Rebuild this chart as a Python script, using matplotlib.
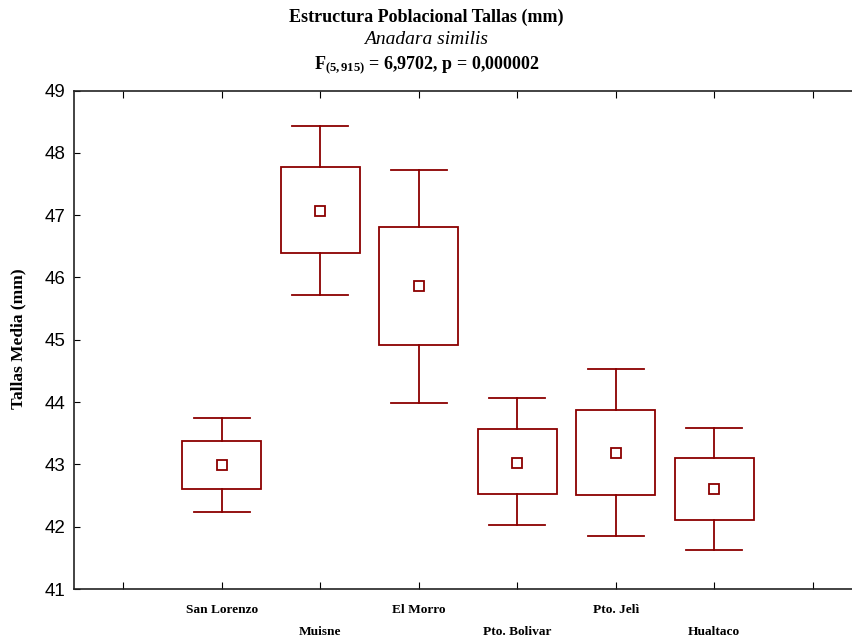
import matplotlib
matplotlib.use("Agg")
import matplotlib.pyplot as plt
import numpy as np

plt.rcParams['mathtext.fontset'] = 'custom'
plt.rcParams['mathtext.rm'] = 'Liberation Serif'
plt.rcParams['mathtext.bf'] = 'Liberation Serif:bold'
plt.rcParams['mathtext.it'] = 'Liberation Serif:italic'

# Sitios y estadisticos de talla (media, +/- EE, +/- 1.96*EE)
sitios = ["San Lorenzo", "Muisne", "El Morro", "Pto. Bolivar", "Pto. Jelì", "Hualtaco"]
media = [42.99, 47.07, 45.86, 43.03, 43.19, 42.61]
caja_inf = [42.60, 46.39, 44.91, 42.53, 42.51, 42.11]
caja_sup = [43.38, 47.77, 46.81, 43.57, 43.87, 43.11]
bigote_inf = [42.23, 45.72, 43.99, 42.03, 41.85, 41.63]
bigote_sup = [43.75, 48.43, 47.73, 44.06, 44.53, 43.59]

color = "#8b0000"
serif = "Liberation Serif"

fig = plt.figure(figsize=(8.53, 6.39), dpi=100)
ax = fig.add_axes([74 / 853, 1 - 589 / 639, (862 - 74) / 853, (589 - 90.5) / 639])

x = np.arange(1, len(sitios) + 1)
ancho = 0.8
tapa = 0.57
for xi, m, bi, bs, wi, ws in zip(x, media, caja_inf, caja_sup, bigote_inf, bigote_sup):
    ax.add_patch(plt.Rectangle((xi - ancho / 2, bi), ancho, bs - bi,
                               fill=False, edgecolor=color, lw=1.3))
    ax.plot([xi, xi], [bs, ws], color=color, lw=1.3)
    ax.plot([xi, xi], [wi, bi], color=color, lw=1.3)
    ax.plot([xi - tapa / 2, xi + tapa / 2], [ws, ws], color=color, lw=1.3)
    ax.plot([xi - tapa / 2, xi + tapa / 2], [wi, wi], color=color, lw=1.3)
ax.plot(x, media, linestyle="none", marker="s", markersize=6.5,
        markerfacecolor="white", markeredgecolor=color, markeredgewidth=1.3)

ax.set_xlim(-0.5, 7.5)
ax.set_ylim(41, 49)
ax.set_xticks(np.arange(0, 8))
ax.set_xticklabels([])
ax.set_yticks(np.arange(41, 50))
ax.tick_params(axis="y", direction="in", length=4, labelsize=13.5, pad=6)
ax.tick_params(axis="x", direction="in", length=5, top=True)
for lab in ax.get_yticklabels():
    lab.set_fontfamily("Liberation Sans")
for s in ax.spines.values():
    s.set_linewidth(1.2)
    s.set_color("#222222")

# Etiquetas de sitio escalonadas
for i, (xi, nombre) in enumerate(zip(x, sitios)):
    off = -0.042 if i % 2 == 0 else -0.086
    ax.text(xi, off, nombre, transform=ax.get_xaxis_transform(), ha="center", va="center",
            fontfamily=serif, fontweight="bold", fontsize=9.6)

ax.set_ylabel("Tallas Media (mm)", fontfamily=serif, fontweight="bold", fontsize=12.5)
ax.yaxis.set_label_coords(-0.061, 0.503)

fig.text(0.5, 1 - 17 / 639, "Estructura Poblacional Tallas (mm)", ha="center", va="center",
         fontfamily=serif, fontweight="bold", fontsize=13)
fig.text(0.5, 1 - 40 / 639, "Anadara similis", ha="center", va="center",
         fontfamily=serif, fontstyle="italic", fontsize=14)
fig.text(0.5, 1 - 65 / 639, r"$\mathbf{F_{(5,915)}}$ = 6,9702, p = 0,000002", ha="center", va="center",
         fontfamily=serif, fontweight="bold", fontsize=13)

fig.savefig("out.png", dpi=100)
